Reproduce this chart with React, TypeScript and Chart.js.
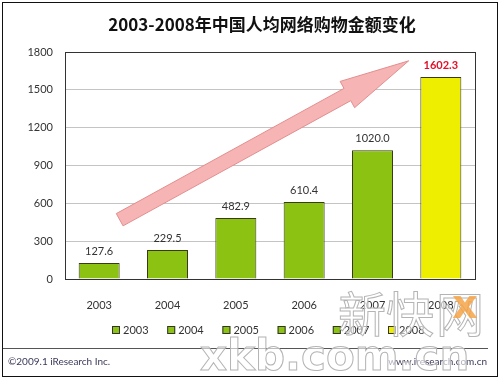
import React, { useEffect, useRef } from "react";
import { Chart, registerables } from "chart.js";

Chart.register(...registerables);

const years = ["2003", "2004", "2005", "2006", "2007", "2008"];
const amounts = [127.6, 229.5, 482.9, 610.4, 1020.0, 1602.3];
const barColors = ["#8CC313", "#8CC313", "#8CC313", "#8CC313", "#8CC313", "#EEEE00"];
const yTicks = [0, 300, 600, 900, 1200, 1500, 1800];
const titleText = "2003-2008年中国人均网络购物金额变化";
const footerLeft = "©2009.1 iResearch Inc.";
const footerRight = "www.iresearch.com.cn";

const FONT = "Lato, 'DejaVu Sans', sans-serif";

const decorPlugin = {
  id: "decor",
  beforeDatasetsDraw(chart: any) {
    const { ctx, scales } = chart;
    const xs = scales.x;
    const ys = scales.y;
    const x0 = xs.getPixelForValue(0.3);
    const y0 = ys.getPixelForValue(470);
    const x1 = xs.getPixelForValue(4.53);
    const y1 = ys.getPixelForValue(1730);
    const dx = x1 - x0, dy = y1 - y0;
    const len = Math.sqrt(dx * dx + dy * dy);
    const ux = dx / len, uy = dy / len;
    const px = -uy, py = ux;
    const shaftW = 7;
    const headW = 15;
    const headL = 70;
    const bx = x1 - ux * headL, by = y1 - uy * headL;
    ctx.save();
    ctx.beginPath();
    ctx.moveTo(x0 + px * shaftW, y0 + py * shaftW);
    ctx.lineTo(bx + px * shaftW, by + py * shaftW);
    ctx.lineTo(bx + px * headW, by + py * headW);
    ctx.lineTo(x1, y1);
    ctx.lineTo(bx - px * headW, by - py * headW);
    ctx.lineTo(bx - px * shaftW, by - py * shaftW);
    ctx.lineTo(x0 - px * shaftW, y0 - py * shaftW);
    ctx.closePath();
    ctx.fillStyle = "#F6B4B4";
    ctx.fill();
    ctx.strokeStyle = "#E28E8E";
    ctx.lineWidth = 1;
    ctx.stroke();
    ctx.restore();
  },
  afterDraw(chart: any) {
    const { ctx, chartArea, width, height } = chart;
    const meta = chart.getDatasetMeta(0);
    ctx.save();
    // title
    ctx.font = "bold 17px 'Noto Sans CJK SC', sans-serif";
    ctx.fillStyle = "#111111";
    ctx.textAlign = "center";
    ctx.textBaseline = "middle";
    ctx.fillText(titleText, 262, 25);
    // plot border
    ctx.strokeStyle = "#333333";
    ctx.lineWidth = 1;
    ctx.strokeRect(
      Math.round(chartArea.left) + 0.5,
      Math.round(chartArea.top) + 0.5,
      Math.round(chartArea.right - chartArea.left),
      Math.round(chartArea.bottom - chartArea.top)
    );
    // value labels
    meta.data.forEach((bar: any, i: number) => {
      const last = i === amounts.length - 1;
      ctx.font = (last ? "bold " : "") + "11px " + FONT;
      ctx.fillStyle = last ? "#E0102A" : "#333333";
      ctx.textAlign = "center";
      ctx.textBaseline = "bottom";
      ctx.fillText(amounts[i].toFixed(1), bar.x, bar.y - 6);
    });
    // legend
    const legendY = 330;
    const startX = 112;
    const step = 55.2;
    years.forEach((y, i) => {
      const lx = startX + i * step;
      ctx.fillStyle = barColors[i];
      ctx.fillRect(lx, legendY - 4, 8, 8);
      ctx.strokeStyle = "#333333";
      ctx.lineWidth = 1;
      ctx.strokeRect(lx + 0.5, legendY - 3.5, 7, 7);
      ctx.fillStyle = "#333333";
      ctx.font = "11px " + FONT;
      ctx.textAlign = "left";
      ctx.textBaseline = "middle";
      ctx.fillText(y, lx + 11, legendY);
    });
    // separator
    ctx.strokeStyle = "#555555";
    ctx.beginPath();
    ctx.moveTo(2, 348.5);
    ctx.lineTo(488, 348.5);
    ctx.stroke();
    // footers
    ctx.font = "10px " + FONT;
    ctx.fillStyle = "#3A3A5A";
    ctx.textBaseline = "middle";
    ctx.textAlign = "left";
    ctx.fillText(footerLeft, 8, 362);
    ctx.textAlign = "right";
    ctx.fillText(footerRight, 487, 362);
    // watermark
    ctx.lineWidth = 1;
    ctx.strokeStyle = "#B4B4B4";
    ctx.fillStyle = "rgba(255,255,255,0.6)";
    ctx.textAlign = "left";
    ctx.textBaseline = "alphabetic";
    ctx.font = "bold 42px 'DejaVu Sans', sans-serif";
    ctx.fillText("xkb.com.cn", 200, 370);
    ctx.strokeText("xkb.com.cn", 200, 370);
    ctx.font = "48px 'Noto Sans CJK SC', sans-serif";
    ctx.fillText("新快", 338, 332);
    ctx.strokeText("新快", 338, 332);
    ctx.fillText("网", 436, 332);
    ctx.strokeText("网", 436, 332);
    ctx.fillStyle = "rgba(245,165,70,0.85)";
    ctx.font = "bold 40px 'DejaVu Sans', sans-serif";
    ctx.fillText("x", 452, 318);
    // outer border
    ctx.strokeStyle = "#111111";
    ctx.lineWidth = 1;
    ctx.strokeRect(2.5, 2.5, width - 5, height - 5);
    ctx.restore();
  },
};

export default function App() {
  const ref = useRef<HTMLCanvasElement>(null);
  useEffect(() => {
    const canvas = ref.current!;
    const chart = new Chart(canvas, {
      type: "bar",
      data: {
        labels: years,
        datasets: [
          {
            data: amounts,
            backgroundColor: barColors,
            borderColor: "#3A3A1A",
            borderWidth: 1,
            barPercentage: 0.6,
            categoryPercentage: 1,
          },
        ],
      },
      options: {
        responsive: false,
        animation: false,
        layout: { padding: { left: 0, right: 25, top: 52, bottom: 60 } },
        plugins: {
          legend: { display: false },
          tooltip: { enabled: false },
          title: { display: false },
        },
        scales: {
          x: {
            grid: { display: false },
            border: { display: true, color: "#333333" },
            ticks: { color: "#333333", font: { family: FONT, size: 11 }, padding: 12 },
            afterFit(scale: any) {
              scale.height = 40;
            },
          },
          y: {
            min: 0,
            max: 1800,
            afterBuildTicks(scale: any) {
              scale.ticks = yTicks.map((v) => ({ value: v }));
            },
            grid: { color: "#C4C4C4", drawTicks: false },
            border: { display: false },
            ticks: {
              color: "#333333",
              font: { family: FONT, size: 11 },
              padding: 12,
              callback: (v: any) => String(v),
            },
            afterFit(scale: any) {
              scale.width = 65;
            },
          },
        },
      },
      plugins: [decorPlugin],
    });
    return () => chart.destroy();
  }, []);
  return (
    <div style={{ position: "absolute", left: 0, top: 0, width: 500, height: 379, background: "#fff" }}>
      <canvas ref={ref} width={500} height={379} />
    </div>
  );
}
